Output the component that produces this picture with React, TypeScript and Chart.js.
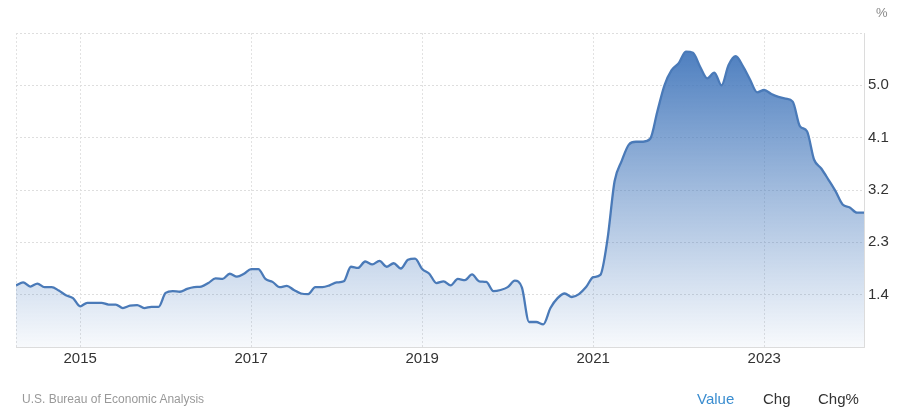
import React, { useEffect, useRef } from "react";
import { Chart, registerables } from "chart.js";

Chart.register(...registerables);

// Monthly observations, April 2014 – March 2024
const startYear = 2014;
const startMonth = 3; // April (0-based)
const values: number[] = [
  1.56, 1.61, 1.54, 1.59, 1.53, 1.53, 1.47, 1.39, 1.34, 1.2,
  1.26, 1.26, 1.26, 1.23, 1.23, 1.17, 1.21, 1.22, 1.17, 1.19,
  1.19, 1.43, 1.46, 1.45, 1.5, 1.53, 1.54, 1.6, 1.68, 1.67,
  1.76, 1.71, 1.76, 1.84, 1.84, 1.67, 1.62, 1.53, 1.55, 1.48,
  1.42, 1.41, 1.53, 1.53, 1.56, 1.61, 1.63, 1.88, 1.86, 1.97,
  1.92, 1.98, 1.88, 1.94, 1.85, 2.0, 2.02, 1.84, 1.76, 1.6,
  1.63, 1.56, 1.67, 1.65, 1.75, 1.63, 1.62, 1.46, 1.48, 1.53,
  1.64, 1.52, 0.93, 0.93, 0.89, 1.17, 1.34, 1.42, 1.36, 1.41,
  1.53, 1.7, 1.74, 2.35, 3.35, 3.7, 3.98, 4.03, 4.03, 4.08,
  4.55, 5.0, 5.26, 5.38, 5.58, 5.56, 5.32, 5.12, 5.22, 5.0,
  5.35, 5.5, 5.33, 5.1, 4.88, 4.92, 4.85, 4.8, 4.77, 4.72,
  4.3, 4.21, 3.72, 3.57, 3.38, 3.18, 2.95, 2.9, 2.81, 2.81,
];

const months: string[] = values.map((_, i) => {
  const m = startMonth + i;
  const y = startYear + Math.floor(m / 12);
  return `${y}-${String((m % 12) + 1).padStart(2, "0")}`;
});

const xTickLabels = ["2015", "2017", "2019", "2021", "2023"];
const yTickValues = [0.5, 1.4, 2.3, 3.2, 4.1, 5.0, 5.9];
const yTickLabels = ["", "1.4", "2.3", "3.2", "4.1", "5.0", ""];

const FONT = "'Liberation Sans', Arial, sans-serif";

export default function App() {
  const ref = useRef<HTMLCanvasElement | null>(null);

  useEffect(() => {
    if (!ref.current) return;
    const xTickIdx = [0, ...xTickLabels.map((l) => months.indexOf(`${l}-01`))];
    const points = values.map((v, i) => ({ x: i, y: v }));

    const chart = new Chart(ref.current, {
      type: "line",
      data: {
        datasets: [
          {
            data: points,
            borderColor: "#4a7ab8",
            borderWidth: 2.3,
            pointRadius: 0,
            fill: "start",
            cubicInterpolationMode: "monotone",
            backgroundColor: (ctx: any) => {
              const area = ctx.chart.chartArea;
              if (!area) return "rgba(74,125,190,0.3)";
              const g = ctx.chart.ctx.createLinearGradient(0, area.top, 0, area.bottom);
              g.addColorStop(0, "rgba(68,120,188,1)");
              g.addColorStop(0.5, "rgba(68,120,188,0.5)");
              g.addColorStop(1, "rgba(68,120,188,0.04)");
              return g;
            },
          },
        ],
      },
      options: {
        responsive: false,
        animation: false,
        devicePixelRatio: 1,
        layout: { padding: { left: 16, top: 33, right: 0, bottom: 0 } },
        plugins: { legend: { display: false }, tooltip: { enabled: false } },
        scales: {
          x: {
            type: "linear",
            min: 0,
            max: values.length - 1,
            afterBuildTicks: (s: any) => {
              s.ticks = xTickIdx.map((v) => ({ value: v }));
            },
            afterFit: (s: any) => {
              s.height = 64;
            },
            ticks: {
              autoSkip: false,
              maxRotation: 0,
              padding: 3,
              color: "#333",
              font: { family: FONT, size: 15 },
              callback: (v: any) => {
                const i = xTickIdx.indexOf(Number(v));
                return i > 0 ? xTickLabels[i - 1] : "";
              },
            },
            grid: {
              color: "#e2e2e2",
              lineWidth: 1,
              drawTicks: false,
            },
            border: { display: true, color: "#e2e2e2", dash: [2, 2] } as any,
          },
          y: {
            position: "right",
            min: 0.5,
            max: 5.9,
            afterBuildTicks: (s: any) => {
              s.ticks = yTickValues.map((v) => ({ value: v }));
            },
            afterFit: (s: any) => {
              s.width = 36;
            },
            ticks: {
              padding: 4,
              color: "#333",
              font: { family: FONT, size: 15 },
              callback: (v: any) => {
                const i = yTickValues.findIndex((t) => Math.abs(t - Number(v)) < 1e-6);
                return i >= 0 ? yTickLabels[i] : "";
              },
            },
            grid: {
              color: "#dedede",
              lineWidth: 1,
              drawTicks: false,
            },
            border: { display: true, color: "#dedede", dash: [2, 2] } as any,
          },
        },
      } as any,
      plugins: [
        {
          id: "frame",
          afterDraw: (c: any) => {
            const { ctx, chartArea: a } = c;
            ctx.save();
            ctx.strokeStyle = "#dcdcdc";
            ctx.lineWidth = 1;
            ctx.beginPath();
            ctx.moveTo(a.left, a.bottom + 0.5);
            ctx.lineTo(a.right, a.bottom + 0.5);
            ctx.moveTo(a.right + 0.5, a.top);
            ctx.lineTo(a.right + 0.5, a.bottom);
            ctx.stroke();
            ctx.restore();
          },
        },
      ],
    });
    return () => chart.destroy();
  }, []);

  const textBase: React.CSSProperties = {
    position: "absolute",
    fontFamily: FONT,
    whiteSpace: "nowrap",
    lineHeight: 1,
  };

  return (
    <div
      style={{
        position: "fixed",
        left: 0,
        top: 0,
        width: 900,
        height: 411,
        background: "#fff",
        overflow: "hidden",
      }}
    >
      <canvas ref={ref} width={900} height={411} style={{ width: 900, height: 411, display: "block" }} />
      <div style={{ ...textBase, left: 876, top: 6, fontSize: 13, color: "#888" }}>%</div>
      <div style={{ ...textBase, left: 22, top: 393, fontSize: 12, color: "#999" }}>
        U.S. Bureau of Economic Analysis
      </div>
      <div style={{ ...textBase, left: 697, top: 391, fontSize: 15, color: "#3a8dd0" }}>Value</div>
      <div style={{ ...textBase, left: 763, top: 391, fontSize: 15, color: "#333" }}>Chg</div>
      <div style={{ ...textBase, left: 818, top: 391, fontSize: 15, color: "#333" }}>Chg%</div>
    </div>
  );
}
